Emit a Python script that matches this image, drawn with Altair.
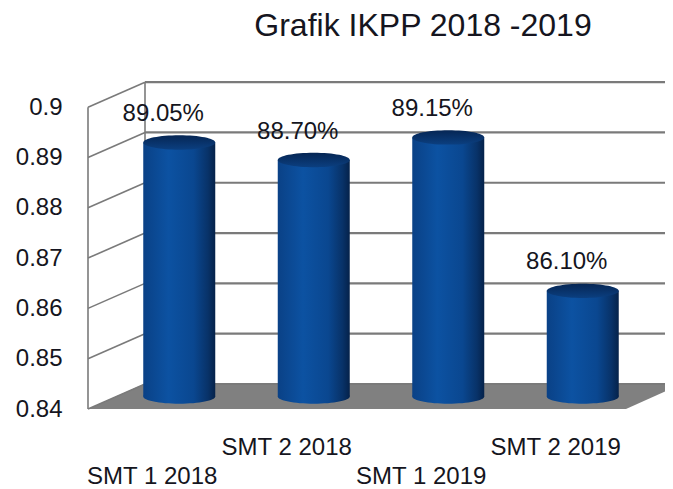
import altair as alt
import pandas as pd

# ---- data ----
categories = ["SMT 1 2018", "SMT 2 2018", "SMT 1 2019", "SMT 2 2019"]
values = [0.8905, 0.8870, 0.8915, 0.8610]
value_labels = ["89.05%", "88.70%", "89.15%", "86.10%"]
label_row = [1, 0, 1, 0]          # 1 = lower row of category labels
y_ticks = [0.84, 0.85, 0.86, 0.87, 0.88, 0.89, 0.90]

# ---- layout ----
BASE = 0.84
TOP = 0.905
N = len(categories)
W, H = 548, 327
DEPTH_X, DEPTH_Y = 57, 25           # pixel depth of the 3D box
DXU = DEPTH_X / (W / N)             # depth in x-units
DYU = DEPTH_Y * (TOP - BASE) / H    # depth in y-units
FONT = "Liberation Sans"
GRID = "#7a7a7a"
TXT = "#151520"

bars = pd.DataFrame({
    "cat": categories,
    "pos": [i + 0.5 for i in range(N)],
    "value": values,
    "label": value_labels,
    "row": label_row,
    "base": [BASE] * N,
})
ticks = pd.DataFrame({"t": y_ticks, "x0": [0.0] * len(y_ticks), "x1": [float(N)] * len(y_ticks)})
floor = pd.DataFrame({
    "x": [0.0, DXU, float(N), N + DXU],
    "y": [BASE, BASE + DYU, BASE + DYU, BASE + DYU],
    "y2": [BASE, BASE, BASE, BASE + DYU],
})
wall = pd.DataFrame({"x": [0.0], "y": [BASE], "y2": [y_ticks[-1]]})

xs = alt.Scale(domain=[0, N], nice=False, zero=False)
ys = alt.Scale(domain=[BASE, TOP], nice=False, zero=False)
Y_AXIS = alt.Axis(
    values=y_ticks, format=".2~f", domain=False, ticks=False, grid=False,
    labelFont=FONT, labelFontSize=24, labelColor=TXT, labelPadding=21, title=None,
)


def X(field):
    return alt.X(field, scale=xs, axis=None)


def Y(field):
    return alt.Y(field, scale=ys, axis=Y_AXIS, title=None)


floor_layer = alt.Chart(floor).mark_area(color="#808080", clip=False).encode(
    x=X("x:Q"), y=Y("y:Q"), y2="y2:Q",
)

back_grid = alt.Chart(ticks).mark_rule(
    color=GRID, strokeWidth=2.2, xOffset=DEPTH_X, x2Offset=DEPTH_X, yOffset=-DEPTH_Y
).encode(x=X("x0:Q"), x2="x1:Q", y=Y("t:Q"))

side_grid = alt.Chart(ticks).mark_rule(
    color=GRID, strokeWidth=1.6, x2Offset=DEPTH_X, y2Offset=-DEPTH_Y
).encode(x=X("x0:Q"), x2="x0:Q", y=Y("t:Q"), y2="t:Q")

front_edge = alt.Chart(wall).mark_rule(color=GRID, strokeWidth=1.6).encode(
    x=X("x:Q"), y=Y("y:Q"), y2="y2:Q",
)
back_edge = alt.Chart(wall).mark_rule(
    color=GRID, strokeWidth=1.6, xOffset=DEPTH_X, yOffset=-DEPTH_Y, y2Offset=-DEPTH_Y
).encode(x=X("x:Q"), y=Y("y:Q"), y2="y2:Q")

body_grad = alt.Gradient(
    gradient="linear", x1=0, x2=1, y1=0, y2=0,
    stops=[
        alt.GradientStop(offset=0, color="#0a4186"),
        alt.GradientStop(offset=0.35, color="#0c52a2"),
        alt.GradientStop(offset=0.7, color="#0a4790"),
        alt.GradientStop(offset=0.9, color="#083268"),
        alt.GradientStop(offset=1, color="#05224a"),
    ],
)
top_grad = alt.Gradient(
    gradient="linear", x1=0, x2=0, y1=0, y2=1,
    stops=[
        alt.GradientStop(offset=0, color="#062654"),
        alt.GradientStop(offset=1, color="#0b3f80"),
    ],
)
ELLIPSE = "M -1 0 A 1 0.2 0 1 0 1 0 A 1 0.2 0 1 0 -1 0 Z"
BW = 72
CX, CY = 24, -DEPTH_Y / 2

bottom_cap = alt.Chart(bars).mark_point(
    shape=ELLIPSE, size=BW * BW, filled=True, fill=body_grad, opacity=1,
    strokeWidth=0, xOffset=CX, yOffset=CY
).encode(x=X("pos:Q"), y=Y("base:Q"))

body = alt.Chart(bars).mark_bar(
    size=BW, fill=body_grad, xOffset=CX, yOffset=CY, y2Offset=CY
).encode(x=X("pos:Q"), y=Y("value:Q"), y2="base:Q")

top_cap = alt.Chart(bars).mark_point(
    shape=ELLIPSE, size=BW * BW, filled=True, fill=top_grad, opacity=1,
    strokeWidth=0, xOffset=CX, yOffset=CY
).encode(x=X("pos:Q"), y=Y("value:Q"))

value_text = alt.Chart(bars).mark_text(
    font=FONT, fontSize=24, color=TXT, align="center", baseline="middle",
    dx=8, dy=-41
).encode(x=X("pos:Q"), y=Y("value:Q"), text="label:N")

cat_upper = alt.Chart(bars).transform_filter("datum.row == 0").mark_text(
    font=FONT, fontSize=24, color=TXT, align="center", baseline="alphabetic",
    dx=-3, dy=46
).encode(x=X("pos:Q"), y=Y("base:Q"), text="cat:N")

cat_lower = alt.Chart(bars).transform_filter("datum.row == 1").mark_text(
    font=FONT, fontSize=24, color=TXT, align="center", baseline="alphabetic",
    dx=-3, dy=75
).encode(x=X("pos:Q"), y=Y("base:Q"), text="cat:N")

chart = alt.layer(
    floor_layer, back_grid, side_grid, front_edge, back_edge,
    bottom_cap, body, top_cap, value_text, cat_upper, cat_lower,
).properties(
    width=W, height=H,
    padding={"left": 75, "top": 74, "right": 34, "bottom": 80},
    autosize=alt.AutoSizeParams(type="none"),
    title=alt.TitleParams(
        "Grafik IKPP 2018 -2019", font=FONT, fontSize=32, fontWeight="normal",
        color=TXT, anchor="middle", dx=66, offset=38,
    ),
).configure_view(stroke=None)

chart.save("out.html", embed_options={"renderer": "svg", "actions": False})
